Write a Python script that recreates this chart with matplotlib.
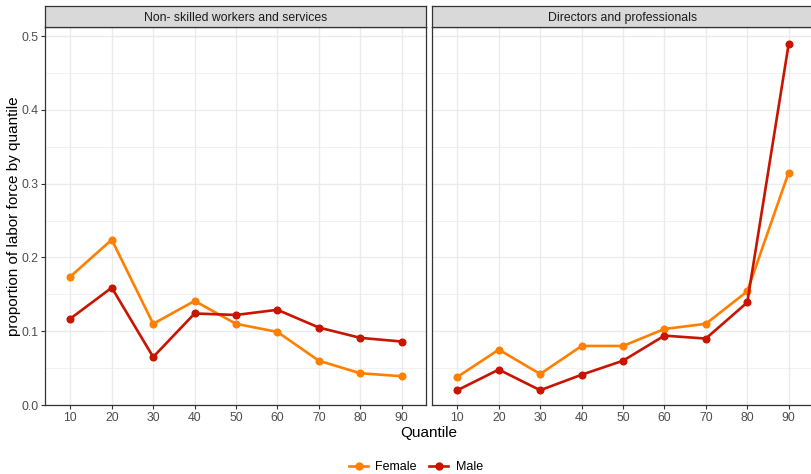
import matplotlib
matplotlib.use("Agg")
import matplotlib.pyplot as plt
from matplotlib.lines import Line2D

quantiles = [10, 20, 30, 40, 50, 60, 70, 80, 90]
panels = ["Non- skilled workers and services", "Directors and professionals"]
female_nonskilled = [0.174, 0.224, 0.110, 0.141, 0.110, 0.099, 0.060, 0.043, 0.039]
male_nonskilled = [0.117, 0.159, 0.065, 0.124, 0.122, 0.129, 0.105, 0.091, 0.086]
female_directors = [0.038, 0.075, 0.042, 0.080, 0.080, 0.103, 0.110, 0.154, 0.315]
male_directors = [0.020, 0.048, 0.020, 0.041, 0.060, 0.094, 0.090, 0.139, 0.489]
yticks = [0.0, 0.1, 0.2, 0.3, 0.4, 0.5]
ytick_labels = ["0.0", "0.1", "0.2", "0.3", "0.4", "0.5"]

c_female = "#FF7F00"
c_male = "#C81400"

plt.rcParams['font.family'] = ['Liberation Sans', 'DejaVu Sans']

W, H = 812, 474
fig = plt.figure(figsize=(W / 100, H / 100), dpi=100)

def px_axes(x0, y0, x1, y1):
    return fig.add_axes([x0 / W, 1 - y1 / H, (x1 - x0) / W, (y1 - y0) / H])

panel_px = [(45.5, 27, 426.5, 405), (432.5, 27, 813.5, 405)]
data = [(female_nonskilled, male_nonskilled), (female_directors, male_directors)]

for i, ((x0, y0, x1, y1), (fem, mal), title) in enumerate(zip(panel_px, data, panels)):
    ax = px_axes(x0, y0, x1, y1)
    xs = list(range(len(quantiles)))
    ax.set_xlim(-0.6, len(quantiles) - 1 + 0.6)
    ax.set_ylim(0, 0.5122)
    ax.set_xticks(xs)
    ax.set_xticklabels([str(q) for q in quantiles])
    ax.set_yticks(yticks)
    ax.set_yticks([0.05, 0.15, 0.25, 0.35, 0.45], minor=True)
    ax.grid(True, which='major', color='#EBEBEB', linewidth=1.0)
    ax.grid(True, which='minor', axis='y', color='#EBEBEB', linewidth=0.5)
    ax.set_axisbelow(True)
    ax.tick_params(axis='both', which='major', colors='#333333', labelsize=8.8,
                   length=3, width=0.8, pad=2)
    ax.tick_params(axis='both', which='minor', length=0)
    ax.tick_params(axis='x', labelcolor='#4D4D4D')
    ax.tick_params(axis='y', labelcolor='#4D4D4D')
    if i == 0:
        ax.set_yticklabels(ytick_labels)
    else:
        ax.set_yticklabels([])
        ax.tick_params(axis='y', which='both', length=0)
    for s in ax.spines.values():
        s.set_color('#333333')
        s.set_linewidth(0.9)
    ax.plot(xs, fem, color=c_female, linewidth=1.9, marker='o', markersize=4.8, zorder=3)
    ax.plot(xs, mal, color=c_male, linewidth=1.9, marker='o', markersize=4.8, zorder=3)
    # strip
    sax = px_axes(x0, 6, x1, 27)
    sax.set_xticks([]); sax.set_yticks([])
    sax.set_facecolor('#D9D9D9')
    for s in sax.spines.values():
        s.set_color('#333333')
        s.set_linewidth(0.9)
    sax.text(0.5, 0.3, title, ha='center', va='baseline', fontsize=8.8, color='#1A1A1A',
             transform=sax.transAxes)

fig.text(429 / W, 1 - 433 / H, "Quantile", ha='center', va='center', fontsize=11, color='black')
fig.text(14 / W, 1 - 216 / H, "proportion of labor force by quantile", ha='center', va='center',
         rotation=90, fontsize=11, color='black')

handles = [Line2D([], [], color=c_female, linewidth=1.9, marker='o', markersize=5),
           Line2D([], [], color=c_male, linewidth=1.9, marker='o', markersize=5)]
fig.legend(handles, ["Female", "Male"], loc='center', bbox_to_anchor=(416 / W, 1 - 467 / H),
           ncol=2, frameon=False, fontsize=9, handlelength=1.5, handletextpad=0.6,
           columnspacing=1.0)

fig.savefig("out.png", dpi=100)
